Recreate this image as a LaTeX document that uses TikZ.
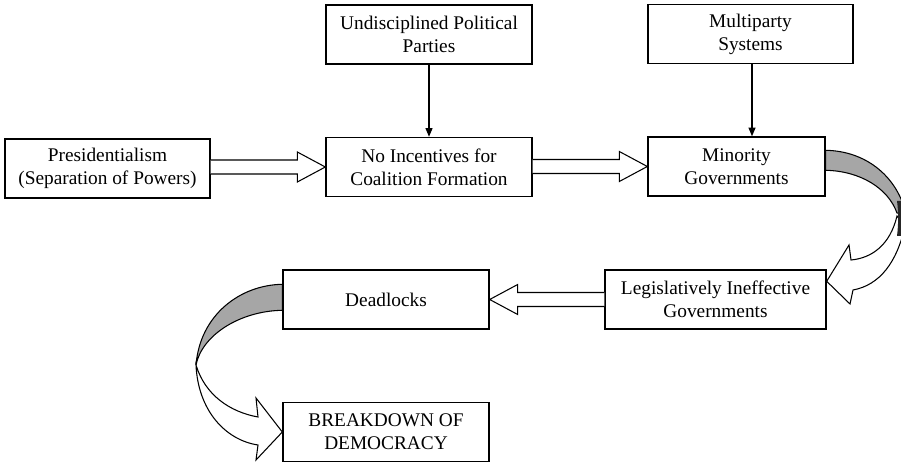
\documentclass[tikz,border=0pt]{standalone}
\usepackage{fontspec}
\setmainfont{Liberation Serif}
\usetikzlibrary{calc,arrows.meta}
\newcommand{\hollowarr}[3]{%
  \coordinate (ha-s) at (#1 |- #2);
  \draw[hollow] ($(ha-s)+(0,-7)$) -- ($(#2)+(#3,-7)$) -- ($(#2)+(#3,-15)$) -- (#2) -- ($(#2)+(#3,15)$) -- ($(#2)+(#3,7)$) -- ($(ha-s)+(0,7)$);}
\begin{document}
\begin{tikzpicture}[x=0.02cm,y=-0.02cm,
  box/.style={draw, line width=0.8pt, minimum height=1.18cm, inner sep=0pt, align=center, font=\fontsize{11}{13}\selectfont},
  thinarrow/.style={line width=0.7pt,-{Triangle[length=5pt,width=4pt]}},
  hollow/.style={draw, fill=white, line width=0.6pt, line join=miter},
  ribbon/.style={draw, line width=0.6pt}]
\useasboundingbox (0,0) rectangle (901,465);
\clip (0,0) rectangle (901,465);
\node[box, minimum width=4.1cm] (pres) at (107.5,168.5) {Presidentialism\\(Separation of Powers)};
\node[box, minimum width=4.12cm] (undis) at (429,34.5) {Undisciplined Political\\Parties};
\node[box, minimum width=4.12cm] (noinc) at (429,167) {No Incentives for\\Coalition Formation};
\node[box, minimum width=4.1cm] (multi) at (750.5,34) {Multiparty\\Systems};
\node[box, minimum width=3.54cm] (minor) at (736.5,166.5) {Minority\\Governments};
\node[box, minimum width=4.42cm] (legis) at (715.5,299.5) {Legislatively Ineffective\\Governments};
\node[box, minimum width=4.12cm] (dead) at (386,299.5) {Deadlocks};
\node[box, minimum width=4.12cm] (brk) at (386,432) {BREAKDOWN OF\\DEMOCRACY};
% thin arrows
\draw[thinarrow] (undis.south) -- (noinc.north);
\coordinate (m1) at ($(multi.south)+(1.5,0)$);
\draw[thinarrow] (m1) -- (m1 |- minor.north);
% hollow straight arrows
\hollowarr{pres.east}{noinc.west}{-28}
\hollowarr{noinc.east}{minor.west}{-28}
\hollowarr{legis.west}{dead.east}{28}
% right curved ribbon arrow
\draw[ribbon, fill=black!35] ($(minor.north east)+(0,14)$) .. controls (865,151) and (895,175) .. (905,210) -- (905,214) -- (897,213) .. controls (888,188) and (860,171) .. ($(minor.north east)+(0,34)$) -- cycle;
\draw[ribbon, fill=white, line join=miter] (897,216) .. controls (890,245) and (872,258) .. (851,260) -- (849,245) -- ($(legis.north east)+(0,12)$) -- (850,304) -- (853,290) .. controls (880,285) and (897,262) .. (905,226) -- cycle;
\fill[black!85] (897,201) .. controls (898.5,212) and (898.5,224) .. (897,236) -- (903,236) -- (903,201) -- cycle;
% left curved ribbon arrow
\draw[ribbon, fill=black!35] ($(dead.north west)+(0,15)$) .. controls (240,285) and (200,315) .. (196,365) .. controls (202,335) and (240,311) .. ($(dead.north west)+(0,41)$) -- cycle;
\draw[ribbon, fill=white, line join=miter] (196,365) .. controls (198,410) and (225,440) .. (258,445) -- (256,460) -- (brk.west) -- (256,398) -- (258,417) .. controls (230,412) and (205,395) .. (196,365) -- cycle;
\end{tikzpicture}
\end{document}
